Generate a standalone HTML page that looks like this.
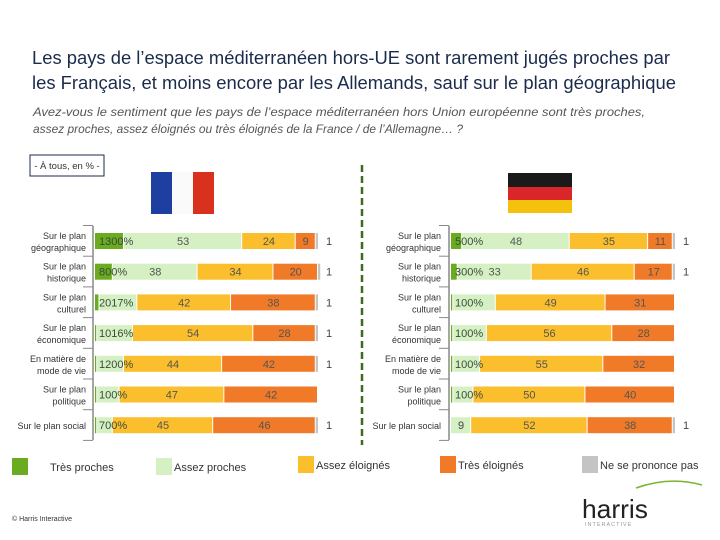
<!DOCTYPE html>
<html><head><meta charset="utf-8"><style>
body{margin:0;background:#fff;}
svg{display:block;font-family:"Liberation Sans",sans-serif;}
</style></head><body>
<svg id="chart" width="720" height="540" viewBox="0 0 720 540">
<text x="32" y="64" font-size="18" fill="#1b2b4b" textLength="638" lengthAdjust="spacingAndGlyphs">Les pays de l’espace méditerranéen hors-UE sont rarement jugés proches par</text>
<text x="32" y="89" font-size="18" fill="#1b2b4b" textLength="644" lengthAdjust="spacingAndGlyphs">les Français, et moins encore par les Allemands, sauf sur le plan géographique</text>
<text x="33" y="116" font-size="12" font-style="italic" fill="#555" textLength="612" lengthAdjust="spacingAndGlyphs">Avez-vous le sentiment que les pays de l’espace méditerranéen hors Union européenne sont très proches,</text>
<text x="33" y="133" font-size="12" font-style="italic" fill="#555" textLength="430" lengthAdjust="spacingAndGlyphs">assez proches, assez éloignés ou très éloignés de la France / de l’Allemagne… ?</text>
<rect x="30" y="155" width="74" height="21" fill="#fff" stroke="#1b2b4b" stroke-width="1"/>
<text x="67" y="169" font-size="9.5" text-anchor="middle" fill="#333">- À tous, en % -</text>
<g>
<rect x="151" y="172" width="21" height="42" fill="#1f3fa0"/><rect x="172" y="172" width="21" height="42" fill="#fafafa"/><rect x="193" y="172" width="21" height="42" fill="#d8321e"/></g>
<g>
<rect x="508" y="173" width="64" height="14" fill="#1a1a1a"/><rect x="508" y="187" width="64" height="13" fill="#d8262a"/><rect x="508" y="200" width="64" height="13" fill="#f4c20d"/></g>
<line x1="362" y1="165" x2="362" y2="445" stroke="#3d6b1f" stroke-width="2.5" stroke-dasharray="7,4"/>
<g id="left"></g>
<g id="right"></g>
<g id="legend"></g>
<text x="12" y="521" font-size="7" fill="#333">© Harris Interactive</text>
<g>
<path d="M636 488 Q670 476 702 485" stroke="#7ab330" stroke-width="1.5" fill="none"/>
<text x="582" y="518" font-size="26" fill="#222" textLength="66" lengthAdjust="spacingAndGlyphs">harris</text>
<text x="585" y="526" font-size="5.5" fill="#999" letter-spacing="1">INTERACTIVE</text></g>
</svg>
<script>
const categories=["Sur le plan|géographique","Sur le plan|historique","Sur le plan|culturel","Sur le plan|économique","En matière de|mode de vie","Sur le plan|politique","Sur le plan social"];
const frTP=[13,8,2,1,1,1,1];
const frAP=[53,38,17,16,12,10,7];
const frAE=[24,34,42,54,44,47,45];
const frTE=[9,20,38,28,42,42,46];
const frNSP=[1,1,1,1,1,0,1];
const frStart=["1300%","800%","2017%","1016%","1200%","100%","700%"];
const deTP=[5,3,1,1,1,1,0];
const deAP=[48,33,19,15,12,9,9];
const deAE=[35,46,49,56,55,50,52];
const deTE=[11,17,31,28,32,40,38];
const deNSP=[1,1,0,0,0,0,1];
const deStart=["500%","300%","100%","100%","100%","100%",""];
const colors=["#6aab1f","#d5f1c3","#fbbe2c","#f07a27","#c4c4c4"];
const NS="http://www.w3.org/2000/svg";
function mk(tag,attrs,parent,txt){const e=document.createElementNS(NS,tag);for(const k in attrs)e.setAttribute(k,attrs[k]);if(txt!==undefined)e.textContent=txt;parent.appendChild(e);return e;}
const rowY=i=>241+i*30.7;
function draw(gid,x0,w,labelX,series,starts,prefix){
 const g=document.getElementById(gid);
 const xs=v=>v*w/100;
 mk('line',{x1:x0-2,y1:226,x2:x0-2,y2:440,stroke:'#888','stroke-width':1.5},g);
 for(let i=0;i<=categories.length;i++){const y=rowY(i)-15.5;mk('line',{x1:x0-12,y1:y,x2:x0-2,y2:y,stroke:'#888','stroke-width':1},g);}
 categories.forEach((c,i)=>{
  const cy=rowY(i);const parts=c.split('|');
  parts.forEach((p,j)=>{const t=mk('text',{x:labelX,y:cy+(parts.length>1?(j?10:-2):4),'font-size':9,'text-anchor':'end',fill:'#333'},g,p);
   });
  let acc=0;
  series.forEach((s,k)=>{
   const v=s[i];const r=mk('rect',{x:x0+xs(acc),y:cy-8,width:Math.max(0,xs(v)-(k<4?1:0)),height:16,fill:colors[k]},g);
   
   
   if((k==1||k==2||k==3)&&v>=9&&!(k==1&&v<20&&starts[i])){const t=mk('text',{x:x0+xs(acc+v/2),y:cy+4,'font-size':11,'text-anchor':'middle',fill:'#555'},g,v);
    }
   acc+=v;
  });
  if(starts[i]){const t=mk('text',{x:x0+4,y:cy+4,'font-size':11,fill:'#3a4a3a'},g,starts[i]);
   }
  else if(series[1][i]>0){const t=mk('text',{x:x0+xs(series[0][i]+series[1][i]/2),y:cy+4,'font-size':11,'text-anchor':'middle',fill:'#555'},g,series[1][i]);
   }
  if(series[4][i]>0){const t=mk('text',{x:x0+w+8,y:cy+4,'font-size':11,fill:'#444'},g,series[4][i]);
   }
 });
}
draw('left',95,223,86,[frTP,frAP,frAE,frTE,frNSP],frStart,'fr');
draw('right',451,224,441,[deTP,deAP,deAE,deTE,deNSP],deStart,'de');
const legNames=["Très proches","Assez proches","Assez éloignés","Très éloignés","Ne se pronnonce pas"];
const legX=[12,156,298,440,582],legT=[50,174,316,458,600],legY=[458,458,456,456,456];
const lg=document.getElementById('legend');
legNames.forEach((n,k)=>{
 const r=mk('rect',{x:legX[k],y:legY[k],width:16,height:17,fill:colors[k]},lg);
 
 
 const t=mk('text',{x:legT[k],y:legY[k]+13,'font-size':11,fill:'#333'},lg,k==4?"Ne se prononce pas":n);
 
 
});
</script>
</body></html>
